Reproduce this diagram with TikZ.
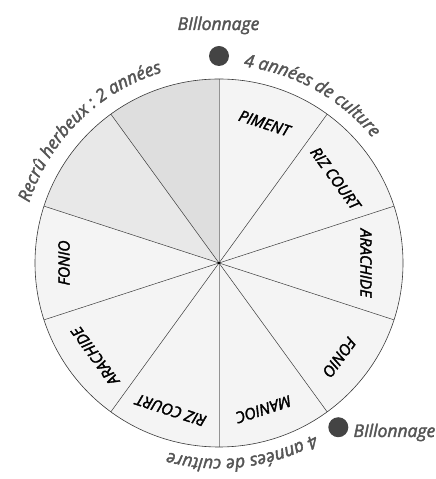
\documentclass[tikz,border=0pt]{standalone}
\usepackage{fontspec}
\setmainfont{Open Sans}
\newfontfamily\semib{Open Sans}[UprightFeatures={FakeBold=2.2}, ItalicFeatures={FakeBold=2.2}]
\usetikzlibrary{decorations.text}
\definecolor{fillA}{HTML}{F4F4F4}
\definecolor{fillB}{HTML}{DEDEDE}
\definecolor{fillC}{HTML}{E8E8E8}
\definecolor{txtgray}{HTML}{555555}
\definecolor{dotgray}{HTML}{444444}
\definecolor{linegray}{HTML}{3A3A3A}
\tikzset{
  lab/.style={font=\semib\fontsize{15.5}{16}\selectfont\itshape, text=black, inner sep=0pt},
  outer/.style={font=\semib\fontsize{17.5}{20}\selectfont\itshape, text=txtgray, inner sep=0pt},
  radial/.style={draw=linegray, line width=0.5pt},
  dotmark/.style={circle, fill=dotgray, minimum size=20pt, inner sep=0pt},
}
\begin{document}
\begin{tikzpicture}[x=1pt,y=1pt]
\useasboundingbox (0,0) rectangle (436,479);
\coordinate (C) at (219,216);
% sectors
\foreach \a in {-198,-162,-126,-90,-54,-18,18,54} {
  \fill[fillA] (C) -- ([shift={(\a:184)}]C) arc[start angle=\a, end angle=\a+36, radius=184] -- cycle;
}
\fill[fillB] (C) -- ([shift={(90:184)}]C) arc[start angle=90, end angle=126, radius=184] -- cycle;
\fill[fillC] (C) -- ([shift={(126:184)}]C) arc[start angle=126, end angle=162, radius=184] -- cycle;
% radial lines
\foreach \a in {54,18,-18,-54,126,162,198,234} {
  \coordinate (e\a) at ([shift={(\a:184)}]C);
  \draw[radial] (C) -- (e\a);
}
\coordinate (etop) at ([shift={(90:184)}]C);
\coordinate (ebot) at ([shift={(-90:184)}]C);
\draw[draw=gray!85, line width=0.8pt] (etop) -- (ebot);
\draw[linegray, line width=0.6pt] (C) circle[radius=184];
\fill[black] (C) circle[radius=1.3];
% inner labels
\node[lab, rotate=-18]  (l1) at ([shift={(72:147)}]C) {PIMENT};
\node[lab, rotate=-54]  (l2) at ([shift={(36:144)}]C) {RIZ COURT};
\node[lab, rotate=-90]  (l3) at ([shift={(0:147)}]C) {ARACHIDE};
\node[lab, rotate=-126] (l4) at ([shift={(-38:153)}]C) {FONIO};
\node[lab, rotate=-162] (l5) at ([shift={(-73:153)}]C) {MANIOC};
\node[lab, rotate=-198] (l6) at ([shift={(-108:155)}]C) {RIZ COURT};
\node[lab, rotate=-234] (l7) at ([shift={(-143:155)}]C) {ARACHIDE};
\node[lab, rotate=90]   (l8) at ([shift={(180:155)}]C) {FONIO};
% dots and billonnage labels
\node[dotmark] (d1) at ([shift={(90:207)}]C) {};
\node[dotmark] (d2) at ([shift={(-54:203)}]C) {};
\node[outer, anchor=base] (b1) at (218.5,449) {BIllonnage};
\node[outer, anchor=base east] (b2) at (435.5,42) {BIllonnage};
% curved texts
\path[decorate, decoration={text along path, text align=center,
  text={|\semib\fontsize{17.5}{20}\selectfont\itshape\color{txtgray}|Recrû herbeux : 2 années}}]
  ([shift={(180:199)}]C) arc[start angle=180, end angle=89, radius=199];
\path[decorate, decoration={text along path, text align=center,
  text={|\semib\fontsize{17.5}{20}\selectfont\itshape\color{txtgray}|4 années de culture}}]
  ([shift={(106:198)}]C) arc[start angle=106, end angle=16, radius=198];
\path[decorate, decoration={text along path, text align=center,
  text={|\semib\fontsize{17.5}{20}\selectfont\itshape\color{txtgray}|4 années de culture}}]
  ([shift={(-38:196)}]C) arc[start angle=-38, end angle=-128, radius=196];
\end{tikzpicture}
\end{document}
